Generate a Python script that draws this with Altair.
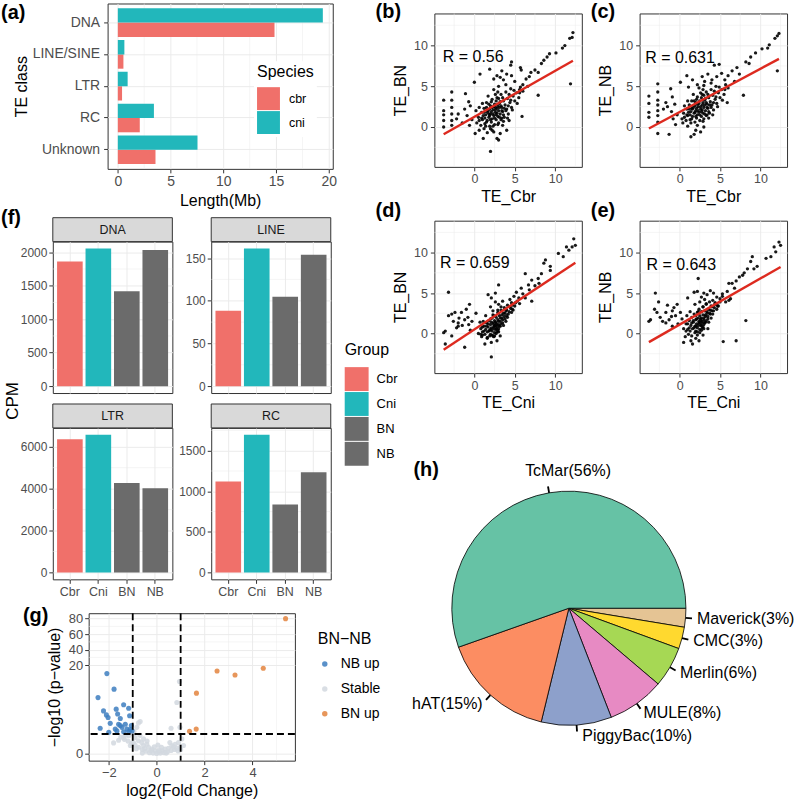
import math
import altair as alt
import pandas as pd

FONT = "Liberation Sans"
RED = "#F0706A"
TEAL = "#22B7BB"
DARK = "#6B6B6B"
GRID = "#EBEBEB"
FRAME = "#333333"
LAB = "#4D4D4D"
STRIP = "#D9D9D9"
FIT = "#DD2A1F"

# ---------------- (a) TE length ----------------
te_classes = ["DNA", "LINE/SINE", "LTR", "RC", "Unknown"]
len_cbr = [14.85, 0.53, 0.40, 2.08, 3.57]
len_cni = [19.43, 0.62, 0.93, 3.42, 7.55]
len_ticks = [0, 5, 10, 15, 20]
len_minor = [2.5, 7.5, 12.5, 17.5]

# ---------------- (f) CPM ----------------
cpm_groups = ["Cbr", "Cni", "BN", "NB"]
cpm_dna = [1863, 2056, 1417, 2035]
cpm_line = [88.4, 161.2, 104.8, 153.8]
cpm_ltr = [6360, 6569, 4271, 4020]
cpm_rc = [1120, 1696, 838, 1234]
dna_ticks, dna_minor = [0, 500, 1000, 1500, 2000], [250, 750, 1250, 1750]
line_ticks, line_minor = [0, 50, 100, 150], [25, 75, 125]
ltr_ticks, ltr_minor = [0, 2000, 4000, 6000], [1000, 3000, 5000]
rc_ticks, rc_minor = [0, 500, 1000, 1500], [250, 750, 1250, 1750]

# ---------------- (b)-(e) scatter ----------------
sc_ticks = [0, 5, 10]
sc_minor = [-2.5, 2.5, 7.5, 12.5]
r_texts = ["R = 0.56", "R = 0.631", "R = 0.659", "R = 0.643"]
r_x = [-3.9, -4.25, -4.25, -4.1]
r_y = [8.6, 8.5, 8.66, 8.45]

pts_b = [
    (12.2, 11.6), (12.1, 11.0), (11.8, 10.9), (11.2, 10.0), (10.9, 9.7), (10.1, 9.1), (9.3, 9.0),
    (9.0, 8.6), (8.6, 8.2), (8.3, 7.8), (11.9, 5.3), (7.9, 6.7), (7.5, 7.0), (7.0, 6.7), (7.9, 3.9),
    (5.9, 1.3), (6.4, 5.9), (6.8, 6.2), (6.0, 5.2), (5.6, 4.6), (6.6, 5.0),
    (0.0, 5.5), (0.7, 6.5), (1.9, 7.1), (2.8, 6.3), (3.4, 6.9), (4.6, 8.0), (4.5, 7.6), (5.7, 7.3),
    (4.0, 6.5), (4.6, 6.3), (3.6, 5.8), (2.4, 5.9), (5.8, 7.0), (3.2, 6.1),
    (-3.8, 3.3), (-3.8, 2.0), (-3.8, 1.5), (-3.8, 0.8), (-3.8, 0.0), (-2.8, 4.3), (-2.8, 3.3),
    (-2.8, 2.4), (-2.8, 1.6), (-2.8, 0.8), (-2.8, 0.2), (-2.2, 1.0), (-2.0, 1.6), (-1.1, 4.1),
    (-0.7, 3.1), (-1.2, 2.2), (-0.9, 1.4), (-0.5, 2.6), (-1.5, 0.5), (-0.3, 0.9), (-0.6, 0.2),
    (2.0, -3.0), (1.1, -1.4), (2.8, -1.4), (3.0, -1.6), (0.1, -0.8), (3.2, -0.8), (1.6, -0.7),
    (2.4, -0.6), (4.0, -0.4), (0.6, -0.4), (2.0, -0.2), (3.5, 0.2), (1.2, -0.2), (4.3, 0.8),
    (0.3, 0.5), (0.5, 1.2), (0.8, 0.2), (0.9, 1.8), (1.0, 0.9), (1.2, 2.3), (1.3, 0.4), (1.4, 1.5),
    (1.5, 3.0), (1.6, 0.8), (1.7, 2.0), (1.8, 1.2), (1.9, 0.1), (2.0, 2.6), (2.0, 1.6), (2.1, 0.6),
    (2.2, 3.4), (2.2, 1.0), (2.3, 2.1), (2.4, 1.4), (2.5, 0.3), (2.5, 2.8), (2.6, 1.8), (2.7, 0.9),
    (2.8, 2.3), (2.8, 3.6), (2.9, 1.3), (3.0, 0.5), (3.0, 2.0), (3.1, 2.9), (3.2, 1.6), (3.3, 4.0),
    (3.3, 0.9), (3.4, 2.4), (3.5, 1.9), (3.6, 3.2), (3.7, 1.2), (3.8, 2.7), (3.9, 4.3), (4.0, 2.2),
    (4.1, 3.5), (4.2, 1.6), (4.4, 3.0), (4.5, 4.7), (4.6, 2.4), (4.8, 3.8), (5.0, 3.2), (5.2, 4.2),
    (5.5, 3.6), (5.7, 4.9), (6.0, 4.4), (1.0, 2.9), (0.2, 2.0), (0.6, 2.4), (1.7, 3.8), (2.4, 4.6),
    (3.0, 5.0), (3.9, 5.2), (5.0, 5.6), (2.6, 4.0), (1.1, 1.4), (1.9, 2.2), (2.3, 0.1), (2.7, 1.5),
    (3.4, 1.1), (1.5, 2.4), (2.1, 1.9), (3.1, 2.4), (2.6, 2.4), (1.8, 1.6),
    (1.3, 1.1), (1.6, 1.8), (1.9, 1.4), (2.2, 2.4), (2.5, 1.1), (2.8, 1.7), (3.1, 1.2), (3.4, 2.0),
    (3.7, 2.3), (2.0, 0.9), (2.3, 1.6), (2.6, 2.1), (2.9, 2.6), (3.2, 3.1), (1.5, 0.6), (1.8, 2.8),
    (2.1, 3.1), (2.4, 2.5), (2.7, 3.2), (3.0, 3.5), (3.3, 2.6), (3.6, 1.5), (3.9, 2.0), (4.2, 2.6),
    (4.5, 3.3), (1.2, 1.8), (0.9, 1.1), (0.6, 0.8), (1.4, 0.1), (2.2, -0.4), (2.9, 0.3), (3.6, 0.7),
    (4.1, 1.1), (4.7, 2.1), (5.3, 2.9), (5.6, 4.2), (4.9, 4.5), (4.3, 4.0), (3.5, 3.6), (2.9, 4.3),
]

pts_c = [
    (12.3, 11.5), (12.1, 11.2), (11.8, 10.9), (11.1, 10.1), (10.9, 9.7), (10.2, 9.6), (9.4, 9.1),
    (8.8, 8.6), (8.2, 8.0), (8.6, 7.8), (12.1, 6.9), (7.9, 3.9), (7.1, 7.3), (6.5, 6.9), (7.4, 6.5),
    (5.9, 3.0), (4.9, 7.7), (4.3, 7.6), (6.0, 6.3), (5.6, 5.8), (6.8, 5.6),
    (-3.8, 3.8), (-3.8, 2.9), (-3.8, 1.8), (-3.8, 1.2), (-2.7, 5.3), (-2.7, 4.3), (-2.7, 3.3),
    (-2.7, 2.7), (-2.7, 2.0), (-2.7, 1.4), (-2.7, 0.6), (-2.7, -0.8), (-1.3, -0.9), (-1.1, 4.7),
    (-0.9, 3.7), (0.1, 5.5), (0.9, 6.3), (-1.5, 2.5), (-1.0, 1.9), (-0.6, 2.8), (-0.3, 1.5),
    (-0.8, 1.0), (-2.0, 2.2), (-1.7, 3.0),
    (1.4, -1.2), (1.8, -0.9), (2.0, -0.4), (-0.5, 0.3), (2.6, -0.6), (1.0, 0.1), (3.0, 0.0), (0.4, 0.5),
    (1.6, 5.8), (2.8, 6.2), (3.5, 6.5), (4.0, 5.8), (2.2, 5.2), (3.1, 5.6), (4.6, 6.2), (5.2, 6.6),
    (1.1, 4.9),
    (0.3, 1.0), (0.5, 1.7), (0.8, 0.8), (0.9, 2.2), (1.0, 1.4), (1.2, 2.7), (1.3, 0.9), (1.4, 1.9),
    (1.5, 3.2), (1.6, 1.3), (1.7, 2.4), (1.8, 1.7), (1.9, 0.6), (2.0, 3.0), (2.0, 2.0), (2.1, 1.1),
    (2.2, 3.7), (2.2, 1.5), (2.3, 2.5), (2.4, 1.8), (2.5, 0.8), (2.5, 3.2), (2.6, 2.2), (2.7, 1.3),
    (2.8, 2.7), (2.8, 4.0), (2.9, 1.7), (3.0, 1.0), (3.0, 2.4), (3.1, 3.3), (3.2, 2.0), (3.3, 4.3),
    (3.3, 1.4), (3.4, 2.8), (3.5, 2.3), (3.6, 3.6), (3.7, 1.7), (3.8, 3.1), (3.9, 4.6), (4.0, 2.7),
    (4.1, 3.9), (4.2, 2.1), (4.4, 3.4), (4.5, 5.0), (4.6, 2.9), (4.8, 4.2), (5.0, 3.6), (5.2, 4.6),
    (5.5, 4.0), (5.7, 5.2), (6.0, 4.8), (1.0, 3.2), (0.6, 2.6), (1.7, 4.0), (2.4, 4.8), (3.0, 5.1),
    (3.9, 5.4), (2.6, 4.2), (1.1, 1.8), (1.9, 2.6), (2.7, 1.9), (3.4, 1.5), (2.1, 2.3), (3.1, 2.7),
    (1.5, 2.3),
    (1.3, 1.5), (1.6, 2.2), (1.9, 1.8), (2.2, 2.8), (2.5, 1.5), (2.8, 2.1), (3.1, 1.6), (3.4, 2.4),
    (3.7, 2.7), (2.0, 1.3), (2.3, 2.0), (2.6, 2.5), (2.9, 3.0), (3.2, 3.5), (1.5, 1.0), (1.8, 3.2),
    (2.1, 3.4), (2.4, 2.9), (2.7, 3.6), (3.0, 3.9), (3.3, 3.0), (3.6, 1.9), (3.9, 2.4), (4.2, 3.0),
    (4.5, 3.7), (1.2, 2.2), (0.9, 1.5), (0.6, 1.2), (1.4, 0.5), (2.2, 0.2), (2.9, 0.7), (3.6, 1.1),
    (4.1, 1.5), (4.7, 2.5), (5.3, 3.3), (5.6, 4.6), (4.9, 4.9), (4.3, 4.4), (3.5, 4.0), (2.9, 4.6),
]

pts_d = [
    (12.3, 11.7), (12.5, 10.9), (12.1, 10.7), (11.4, 10.7), (11.7, 10.3), (10.4, 9.9), (11.0, 9.5),
    (9.4, 8.3), (8.8, 9.1), (8.6, 8.7), (9.4, 7.8), (8.3, 7.4), (7.9, 6.8), (7.1, 6.6), (6.3, 7.4),
    (6.7, 6.0), (7.1, 4.0), (6.3, 4.4), (3.0, 6.0), (1.7, 4.8), (2.1, 4.4), (2.6, 5.0), (7.5, 5.9),
    (8.0, 6.2), (6.8, 5.4), (5.8, 5.6), (6.0, 4.9), (5.2, 5.1), (5.5, 4.4), (4.9, 4.6), (4.4, 4.2),
    (5.1, 3.8), (4.7, 3.5),
    (-3.2, 5.1), (-3.6, 0.3), (-3.8, 0.1), (-3.6, -1.3), (-3.2, 2.2), (-2.8, 2.4), (-2.6, 1.5),
    (-2.4, 2.6), (-2.0, 1.3), (-1.6, 2.6), (-1.2, 1.7), (-2.2, 0.7), (-2.0, 0.9), (-1.2, -1.7),
    (-2.8, -0.3), (-0.7, 1.1), (-0.3, 1.5), (-1.5, 1.0), (-0.8, 2.0), (-0.5, 0.4), (-1.0, 3.0),
    (-0.6, 3.6), (0.2, 2.5), (-1.9, 1.9),
    (2.1, -2.9), (1.3, -1.3), (2.1, -1.1), (2.8, -0.9), (1.6, -0.6), (2.4, -0.4), (3.2, -0.3), (1.0, -0.2),
    (0.5, 0.0), (0.8, 0.6), (1.0, 0.2), (1.2, 0.9), (1.3, -0.1), (1.4, 0.5), (1.5, 1.3), (1.6, 0.2),
    (1.7, 0.8), (1.8, 1.6), (1.9, 0.4), (2.0, 1.1), (2.0, -0.1), (2.1, 0.7), (2.2, 1.9), (2.2, 0.3),
    (2.3, 1.3), (2.4, 0.8), (2.4, 2.2), (2.5, 0.1), (2.5, 1.6), (2.6, 1.0), (2.6, 0.5), (2.7, 2.0),
    (2.7, 1.3), (2.8, 0.2), (2.8, 0.8), (2.9, 1.7), (2.9, 2.6), (3.0, 1.1), (3.0, 0.6), (3.1, 2.2),
    (3.2, 1.5), (3.2, 0.9), (3.3, 2.9), (3.4, 1.9), (3.5, 1.3), (3.6, 2.5), (3.7, 3.2), (3.8, 1.8),
    (3.9, 2.8), (4.0, 2.2), (4.1, 3.5), (4.3, 2.7), (4.5, 3.1), (4.6, 3.8), (4.8, 2.9), (5.0, 3.4),
    (5.3, 4.0), (5.6, 3.7), (1.1, 1.5), (1.4, 2.2), (0.7, 1.4), (2.3, 2.8), (2.0, 3.3), (3.0, 3.6),
    (2.6, 3.9), (3.5, 4.0), (1.6, -0.5), (2.3, -0.3), (0.9, -0.4),
    (1.5, 0.9), (1.8, 0.3), (2.0, 0.5), (2.1, 1.4), (2.3, 0.6), (2.4, 1.1), (2.5, 0.9), (2.6, 1.4),
    (2.7, 0.6), (2.8, 1.1), (2.9, 0.4), (3.0, 1.5), (3.1, 0.9), (3.2, 1.9), (3.3, 1.2), (3.4, 2.3),
    (3.5, 1.7), (3.6, 1.0), (3.7, 2.1), (3.8, 2.5), (3.9, 1.5), (4.0, 2.9), (4.1, 2.0), (4.2, 2.4),
    (4.4, 3.3), (4.6, 2.6), (4.7, 3.0), (1.9, -0.3), (2.2, -0.2), (2.5, -0.3), (2.7, 0.0), (3.0, 0.2),
    (1.7, 1.2), (2.0, 1.8), (2.3, 2.3), (2.9, 2.9), (3.3, 3.3), (1.2, 0.3), (1.0, 0.8), (0.8, -0.1),
]

pts_e = [
    (12.3, 11.3), (12.5, 10.9), (11.7, 10.7), (11.9, 10.1), (10.7, 9.3), (11.3, 9.5), (9.6, 8.3),
    (9.0, 9.5), (8.8, 8.9), (8.4, 8.0), (7.8, 7.2), (7.4, 7.0), (6.5, 6.2), (6.1, 6.2), (5.4, -1.0),
    (7.0, -0.9), (8.2, 1.6), (6.1, 4.1), (5.7, 3.9), (6.3, 4.3), (7.0, 6.5), (8.0, 7.5), (9.2, 8.0),
    (6.8, 5.6), (5.9, 5.2), (5.3, 4.9), (5.0, 4.3), (4.6, 4.5), (4.4, 3.8),
    (-3.6, 1.7), (-3.8, 1.5), (-3.0, 5.0), (-3.1, 3.0), (-2.6, 3.9), (-2.1, 1.5), (-1.5, 3.5),
    (-1.7, 2.6), (-1.3, 1.7), (-0.7, 3.2), (-0.5, 2.2), (-0.3, 3.6), (-0.9, 2.8), (-2.4, 2.0),
    (-1.7, 1.3), (-0.9, 0.9), (-1.0, 2.1), (-0.2, 1.2), (0.1, 2.6), (-2.8, 2.6),
    (2.3, 6.8), (1.8, 5.1), (2.2, 5.2), (3.0, 5.0), (3.4, 4.8), (1.0, 4.4), (2.7, 4.5), (3.8, 5.3),
    (4.2, 5.0),
    (0.5, -1.1), (1.4, -0.9), (1.6, -1.3), (2.0, -0.6), (2.4, -0.9), (1.5, -0.3), (0.7, -0.4), (2.9, -0.2),
    (0.5, 0.6), (0.8, 1.2), (1.0, 0.5), (1.2, 1.6), (1.3, 0.3), (1.4, 1.0), (1.5, 2.0), (1.6, 0.6),
    (1.7, 1.4), (1.8, 2.4), (1.9, 0.9), (2.0, 1.7), (2.0, 0.3), (2.1, 1.2), (2.2, 2.6), (2.2, 0.7),
    (2.3, 1.9), (2.4, 1.3), (2.4, 3.0), (2.5, 0.5), (2.5, 2.2), (2.6, 1.6), (2.6, 1.0), (2.7, 2.7),
    (2.7, 1.9), (2.8, 0.7), (2.8, 1.3), (2.9, 2.3), (2.9, 3.3), (3.0, 1.7), (3.0, 1.1), (3.1, 2.8),
    (3.2, 2.1), (3.2, 1.4), (3.3, 3.6), (3.4, 2.5), (3.5, 1.8), (3.6, 3.0), (3.7, 3.9), (3.8, 2.4),
    (3.9, 3.4), (4.0, 2.8), (4.1, 4.1), (4.3, 3.2), (4.5, 3.6), (4.8, 3.4), (5.0, 3.9), (5.3, 4.6),
    (0.3, 1.8), (0.9, 2.2), (1.3, 2.7), (1.9, 3.6), (2.5, 3.9), (3.1, 4.2), (1.1, -0.1), (2.2, -0.2),
    (3.5, 0.6),
    (1.5, 1.3), (1.8, 0.7), (2.0, 0.9), (2.1, 1.8), (2.3, 1.0), (2.4, 1.5), (2.5, 1.3), (2.6, 1.8),
    (2.7, 1.0), (2.8, 1.5), (2.9, 0.8), (3.0, 1.9), (3.1, 1.3), (3.2, 2.3), (3.3, 1.6), (3.4, 2.7),
    (3.5, 2.1), (3.6, 1.4), (3.7, 2.5), (3.8, 2.9), (3.9, 1.9), (4.0, 3.3), (4.1, 2.4), (4.2, 2.8),
    (4.4, 3.7), (4.6, 3.0), (4.7, 3.4), (1.9, 0.1), (2.2, 0.2), (2.5, 0.1), (2.7, 0.4), (3.0, 0.6),
    (1.7, 1.6), (2.0, 2.2), (2.3, 2.7), (2.9, 3.3), (3.3, 3.7), (1.2, 0.7), (1.0, 1.2), (0.8, 0.3),
]

# ---------------- (g) volcano ----------------
vol_groups = ["NB up", "Stable", "BN up"]
vol_stable = [
    (-1.59, 3.1), (-1.38, 3.7), (-1.17, 4.1), (-0.97, 4.5), (-0.9, 3.7), (-0.76, 7.0), (-0.69, 7.3),
    (-0.83, 6.0), (-0.97, 2.6), (-0.76, 3.0), (-0.62, 2.6), (-0.55, 1.9), (-0.41, 2.2), (-0.34, 1.5),
    (-0.2, 1.1), (-0.06, 0.7), (0.08, 0.5), (0.22, 0.7), (0.35, 1.1), (0.49, 1.3), (0.63, 1.9),
    (0.77, 2.2), (0.91, 2.6), (1.05, 3.4), (1.12, 1.9), (0.98, 1.5), (0.6, 5.8), (0.95, 16.3),
    (0.84, 11.6), (0.97, 6.0), (-0.3, 0.3), (-0.15, 0.2), (0.0, 0.1), (0.15, 0.2), (0.3, 0.3),
    (0.45, 0.5), (0.6, 0.8), (0.75, 1.0), (-0.45, 0.6), (-0.6, 1.0), (-0.75, 1.5), (-0.9, 2.0),
    (-1.05, 2.4), (-1.2, 2.9), (-1.35, 3.3), (-1.5, 3.8), (-1.8, 2.5), (-1.1, 1.9), (-0.85, 1.2),
    (-0.5, 1.2), (-0.25, 0.8), (0.1, 0.9), (0.4, 0.2), (0.55, 2.6), (0.7, 1.6), (0.85, 1.3),
    (1.0, 1.0), (0.9, 0.7), (-0.7, 4.2), (-0.55, 3.4), (-0.4, 2.9), (-1.3, 4.3), (-0.95, 5.1),
    (-0.6, 0.2), (0.2, 1.5), (-0.1, 1.6), (0.05, 2.0),
]
vol_nb_up = [
    (-2.08, 18.1), (-1.78, 14.6), (-2.45, 12.7), (-1.38, 11.1), (-1.17, 10.3), (-1.69, 10.1),
    (-2.22, 9.7), (-2.1, 8.8), (-1.63, 9.0), (-2.03, 8.2), (-1.52, 8.0), (-1.13, 8.6), (-1.94, 6.9),
    (-1.59, 6.7), (-1.31, 6.7), (-2.36, 5.8), (-1.73, 5.6), (-1.45, 6.0), (-1.24, 5.6), (-1.1, 5.5),
    (-2.0, 4.9), (-1.66, 5.2), (-1.38, 5.0), (-1.17, 5.0), (-1.03, 5.2), (-1.06, 6.4), (-1.52, 6.4),
]
vol_bn_up = [(5.38, 80.0), (2.52, 18.7), (3.27, 17.8), (4.45, 19.3), (1.66, 13.7), (1.65, 5.6), (1.37, 5.1)]
fc_ticks = [-2, 0, 2, 4]
fc_minor = [-1, 1, 3, 5]
fc_cut = [-1, 1]
p_cut = [4.5]
p_ticks = [0, 20, 40, 60, 80]
p_minor = [30, 50, 70]
P_BREAK = 20
P_SQUEEZE = 0.1746

# ---------------- (h) pie ----------------
pie_names = ["Maverick", "CMC", "Merlin", "MULE", "PiggyBac", "hAT", "TcMar"]
pie_share = [2.6, 3.0, 5.6, 7.9, 9.7, 15.8, 55.4]
pie_labels = ["Maverick(3%)", "CMC(3%)", "Merlin(6%)", "MULE(8%)", "PiggyBac(10%)", "hAT(15%)", "TcMar(56%)"]
pie_colors = ["#E5C494", "#FFD92F", "#A6D854", "#E78AC3", "#8DA0CB", "#FC8D62", "#66C2A5"]


def panel_label(text, x, y):
    return alt.Chart(pd.DataFrame({"t": [text]})).mark_text(
        align="left", baseline="middle", fontSize=20, fontWeight="bold", color="black"
    ).encode(text="t:N", x=alt.value(x), y=alt.value(y))


def spacer(w, h):
    return alt.Chart(pd.DataFrame({"t": [""]})).mark_rect(opacity=0).encode(
        x=alt.value(0), x2=alt.value(w), y=alt.value(0), y2=alt.value(h)).properties(
        width=w, height=h, view=alt.ViewBackground(stroke="transparent"))


# ---------- (a) ----------
df_a = pd.DataFrame({
    "cls": te_classes * 2,
    "Species": ["cbr"] * 5 + ["cni"] * 5,
    "len": len_cbr + len_cni,
})
xs_a = alt.Scale(domain=[-0.97, 20.37], nice=False, zero=False)
ax_a = alt.Axis(values=len_ticks, title="Length(Mb)", labelFontSize=14, titleFontSize=16,
                labelPadding=2, titlePadding=4, grid=True)
X_a = alt.X("len:Q", scale=xs_a, axis=ax_a)
minor_a = alt.Chart(pd.DataFrame({"len": len_minor})).mark_rule(color=GRID, strokeWidth=0.5).encode(x=X_a)
bars_a = alt.Chart(df_a).mark_bar().encode(
    x=X_a,
    x2=alt.datum(0),
    y=alt.Y("cls:N", sort=te_classes, scale=alt.Scale(paddingInner=0.1, paddingOuter=0.15),
            axis=alt.Axis(title="TE class", bandPosition=0.5, grid=True, labelFontSize=14,
                          titleFontSize=16, labelPadding=4, titlePadding=3)),
    yOffset=alt.YOffset("Species:N", sort=["cni", "cbr"]),
    color=alt.Color("Species:N", scale=alt.Scale(domain=["cbr", "cni"], range=[RED, TEAL]),
                    legend=alt.Legend(title="Species", orient="none", legendX=147, legendY=58,
                                      symbolType="square", symbolSize=529, symbolStrokeWidth=0,
                                      titleFontSize=16, labelFontSize=12.5, rowPadding=1,
                                      labelOffset=9, titlePadding=7, fillColor="white", padding=3)),
)
chart_a = alt.layer(minor_a, bars_a, panel_label("(a)", -107, 10)).properties(width=226, height=166)


# ---------- scatter ----------
def scatter(pts, xt, yt, idx, lab, lab_x, lab_y, h):
    df = pd.DataFrame(pts, columns=["x", "y"])
    xsc = alt.Scale(domain=[-4.95, 13.3], nice=False, zero=False)
    ysc = alt.Scale(domain=[-4.9, 13.95], nice=False, zero=False)
    xax = alt.Axis(values=sc_ticks, title=xt, labelFontSize=12.5, titleFontSize=16,
                   labelPadding=2, titlePadding=3, grid=True)
    yax = alt.Axis(values=sc_ticks, title=yt, labelFontSize=12.5, titleFontSize=16,
                   labelPadding=3, titlePadding=5, grid=True)
    X = alt.X("x:Q", scale=xsc, axis=xax)
    Y = alt.Y("y:Q", scale=ysc, axis=yax)
    mdf = pd.DataFrame({"x": sc_minor, "y": sc_minor})
    vmin = alt.Chart(mdf).mark_rule(color=GRID, strokeWidth=0.5).encode(x=X)
    hmin = alt.Chart(mdf).mark_rule(color=GRID, strokeWidth=0.5).encode(y=Y)
    dots = alt.Chart(df).mark_circle(size=11, color="black", opacity=0.9).encode(x=X, y=Y)
    fit = alt.Chart(df).transform_regression("x", "y").mark_line(color=FIT, strokeWidth=2.4).encode(x=X, y=Y)
    rt = alt.Chart(pd.DataFrame({"x": [r_x[idx]], "y": [r_y[idx]], "t": [r_texts[idx]]})).mark_text(
        align="left", baseline="middle", fontSize=16, color="black").encode(x=X, y=Y, text="t:N")
    return alt.layer(vmin, hmin, dots, fit, rt, panel_label(lab, lab_x, lab_y)).properties(width=148, height=h)


chart_b = scatter(pts_b, "TE_Cbr", "TE_BN", 0, "(b)", -59, -1, 154)
chart_c = scatter(pts_c, "TE_Cbr", "TE_NB", 1, "(c)", -49, -1, 154)
chart_d = scatter(pts_d, "TE_Cni", "TE_BN", 2, "(d)", -59, -9.5, 153)
chart_e = scatter(pts_e, "TE_Cni", "TE_NB", 3, "(e)", -49, -9.5, 153)

# ---------- (f) ----------
GROUP_LEGEND = alt.Legend(title="Group", orient="none", legendX=293, legendY=101,
                          symbolType="square", symbolSize=576, symbolStrokeWidth=0,
                          titleFontSize=16, labelFontSize=13, rowPadding=1, labelOffset=8,
                          titlePadding=9)


def fcell(name, vals, ticks, minor, bottom):
    m = max(vals)
    ysc = alt.Scale(domain=[-0.05 * m, 1.05 * m], nice=False, zero=False)
    Y = alt.Y("cpm:Q", scale=ysc, axis=alt.Axis(values=ticks, title=None, labelFontSize=12, format="d",
                                                labelPadding=2, grid=True))
    if bottom:
        xax = alt.Axis(title=None, labelFontSize=12.5, labelAngle=0, bandPosition=0.5,
                       grid=True, labelPadding=2)
    else:
        xax = alt.Axis(title=None, labels=False, ticks=False, bandPosition=0.5, grid=True)
    X = alt.X("grp:N", sort=cpm_groups, scale=alt.Scale(paddingInner=0.1, paddingOuter=0.15), axis=xax)
    df = pd.DataFrame({"grp": cpm_groups, "cpm": vals})
    mn = alt.Chart(pd.DataFrame({"cpm": minor})).mark_rule(color=GRID, strokeWidth=0.5).encode(y=Y)
    bars = alt.Chart(df).mark_bar().encode(
        x=X, y=Y, y2=alt.datum(0),
        color=alt.Color("grp:N", scale=alt.Scale(domain=cpm_groups, range=[RED, TEAL, DARK, DARK]),
                        legend=GROUP_LEGEND))
    sdf = pd.DataFrame({"t": [name]})
    strip = alt.Chart(sdf).mark_rect(fill=STRIP, stroke=FRAME, strokeWidth=1).encode(
        x=alt.value(0), x2=alt.value(120), y=alt.value(-24), y2=alt.value(0))
    stext = alt.Chart(sdf).mark_text(fontSize=12.5, color="#1A1A1A", baseline="middle").encode(
        text="t:N", x=alt.value(60), y=alt.value(-12))
    return alt.layer(mn, bars, strip, stext).properties(width=120, height=152)


f_grid = alt.concat(
    fcell("DNA", cpm_dna, dna_ticks, dna_minor, False),
    fcell("LINE", cpm_line, line_ticks, line_minor, False),
    fcell("LTR", cpm_ltr, ltr_ticks, ltr_minor, True),
    fcell("RC", cpm_rc, rc_ticks, rc_minor, True),
    columns=2, spacing={"row": 9, "column": 4},
)
cpm_side = alt.layer(
    panel_label("(f)", 0, -24),
    alt.Chart(pd.DataFrame({"t": ["CPM"]})).mark_text(angle=270, baseline="middle", fontSize=17,
                                                      color="black").encode(
        text="t:N", x=alt.value(12), y=alt.value(160)),
).properties(width=12, height=300, view=alt.ViewBackground(stroke="transparent"))
f_group = alt.hconcat(cpm_side, f_grid, spacing=-3).resolve_scale(color="independent")

# ---------- (g) ----------
rows = ([(x, y, "Stable") for x, y in vol_stable] + [(x, y, "NB up") for x, y in vol_nb_up]
        + [(x, y, "BN up") for x, y in vol_bn_up])
df_g = pd.DataFrame(rows, columns=["x", "y", "grp"])
YD = f"datum.y <= {P_BREAK} ? datum.y : {P_BREAK} + (datum.y - {P_BREAK}) * {P_SQUEEZE}"


def squeeze(v):
    return v if v <= P_BREAK else P_BREAK + (v - P_BREAK) * P_SQUEEZE


gx = alt.Scale(domain=[-2.84, 5.77], nice=False, zero=False)
gy = alt.Scale(domain=[-1.5, 31.7], nice=False, zero=False)
GX = alt.X("x:Q", scale=gx, axis=alt.Axis(values=fc_ticks, title="log2(Fold Change)", labelFontSize=13,
                                          titleFontSize=16, labelPadding=2, titlePadding=3, grid=True))
GY = alt.Y("yd:Q", scale=gy, axis=alt.Axis(
    values=[squeeze(v) for v in p_ticks], title="\u2212log10 (p\u2212value)", labelFontSize=13,
    titleFontSize=16, labelPadding=2, titlePadding=6, grid=True, labelOverlap=False,
    labelExpr=f"datum.value <= {P_BREAK + 0.01} ? format(datum.value, '.0f') : "
              f"format({P_BREAK} + (datum.value - {P_BREAK}) / {P_SQUEEZE}, '.0f')"))
g_vmin = alt.Chart(pd.DataFrame({"x": fc_minor})).mark_rule(color=GRID, strokeWidth=0.5).encode(x=GX)
g_hmin = alt.Chart(pd.DataFrame({"y": p_minor})).transform_calculate(yd=YD).mark_rule(
    color=GRID, strokeWidth=0.5).encode(y=GY)
g_pts = alt.Chart(df_g).transform_calculate(yd=YD).mark_circle(size=26, opacity=0.85).encode(
    x=GX, y=GY,
    color=alt.Color("grp:N", scale=alt.Scale(domain=vol_groups, range=["#3D7EBF", "#D2D8DF", "#E3843E"]),
                    legend=alt.Legend(title="BN\u2212NB", orient="none", legendX=230, legendY=18,
                                      symbolType="circle", symbolSize=30, symbolStrokeWidth=0,
                                      symbolOpacity=0.85, titleFontSize=16, labelFontSize=14,
                                      rowPadding=11, labelOffset=9, titlePadding=10)))
g_vcut = alt.Chart(pd.DataFrame({"x": fc_cut})).mark_rule(color="black", strokeWidth=1.8,
                                                          strokeDash=[7, 4]).encode(x=GX)
g_hcut = alt.Chart(pd.DataFrame({"y": p_cut})).transform_calculate(yd=YD).mark_rule(
    color="black", strokeWidth=1.8, strokeDash=[7, 4]).encode(y=GY)
chart_g = alt.layer(g_vmin, g_hmin, g_pts, g_vcut, g_hcut, panel_label("(g)", -66, 2.5)).properties(
    width=207, height=148)
g_wrap = alt.hconcat(spacer(20, 1), chart_g, spacing=0).resolve_scale(color="independent")

# ---------- (h) ----------
H_TOP = 413
H_LEFT = 434
PCX, PCY = 569 - H_LEFT, 611 - H_TOP
df_h = pd.DataFrame({"name": pie_names, "share": pie_share, "label": pie_labels,
                     "ord": list(range(len(pie_names)))})
tsc = alt.Scale(domain=[0, 100], range=[math.pi / 2, math.pi / 2 + 2 * math.pi])
pie_base = alt.Chart(df_h).transform_window(
    cum="sum(share)", sort=[alt.SortField("ord", order="ascending")], frame=[None, 0]
).transform_calculate(
    start="datum.cum - datum.share",
    mid="datum.cum - datum.share / 2",
    t1="datum.cum - datum.share / 2 - 0.12",
    t2="datum.cum - datum.share / 2 + 0.12",
)
slices = pie_base.mark_arc(radius=117.5, stroke="black", strokeWidth=0.8).encode(
    theta=alt.Theta("start:Q", scale=tsc), theta2="cum:Q",
    color=alt.Color("name:N", scale=alt.Scale(domain=pie_names, range=pie_colors), legend=None),
    x=alt.value(PCX), y=alt.value(PCY))
ticks = pie_base.mark_arc(radius=124, radius2=117.5, color="black").encode(
    theta=alt.Theta("t1:Q", scale=tsc), theta2="t2:Q", x=alt.value(PCX), y=alt.value(PCY))


def pie_text(names, **kw):
    return pie_base.transform_filter(alt.FieldOneOfPredicate(field="name", oneOf=names)).mark_text(
        radius=129, fontSize=16, color="black", **kw).encode(
        theta=alt.Theta("mid:Q", scale=tsc), text="label:N", x=alt.value(PCX), y=alt.value(PCY))


chart_h = alt.layer(
    slices, ticks,
    pie_text(["Maverick", "CMC", "Merlin", "MULE"], align="left", baseline="middle"),
    pie_text(["PiggyBac"], align="left", baseline="middle", dx=5),
    pie_text(["hAT"], align="right", baseline="middle"),
    pie_text(["TcMar"], align="center", baseline="middle", dx=21, dy=-11),
    panel_label("(h)", 413 - H_LEFT, 472 - H_TOP),
).properties(width=798 - H_LEFT, height=360, view=alt.ViewBackground(stroke="transparent"))

# ---------- layout ----------
a_wrap = alt.hconcat(spacer(1, 1), chart_a, spacing=-3).resolve_scale(color="independent")
left = alt.vconcat(
    alt.vconcat(a_wrap, f_group, spacing=-3).resolve_scale(color="independent"),
    g_wrap, spacing=7,
).resolve_scale(color="independent")
right = alt.vconcat(
    spacer(1, 1),
    alt.hconcat(chart_b, chart_c, spacing=7),
    alt.hconcat(chart_d, chart_e, spacing=7),
    chart_h, spacing=-4,
).resolve_scale(color="independent")

chart = alt.hconcat(left, right, spacing=-23).resolve_scale(color="independent").properties(
    padding={"left": 0, "top": 0, "right": 2, "bottom": 2}, background="white"
).configure(font=FONT).configure_view(
    stroke=FRAME, strokeWidth=1, fill="white"
).configure_axis(
    domain=False, tickColor=FRAME, tickSize=4, labelColor=LAB, labelFont=FONT, titleFont=FONT,
    titleFontWeight="normal", titleColor="black", gridColor=GRID, gridWidth=1
).configure_legend(
    labelFont=FONT, titleFont=FONT, titleFontWeight="normal", labelColor="black", titleColor="black"
).configure_text(font=FONT)

chart.save("out.html", embed_options={"renderer": "svg", "actions": False})
